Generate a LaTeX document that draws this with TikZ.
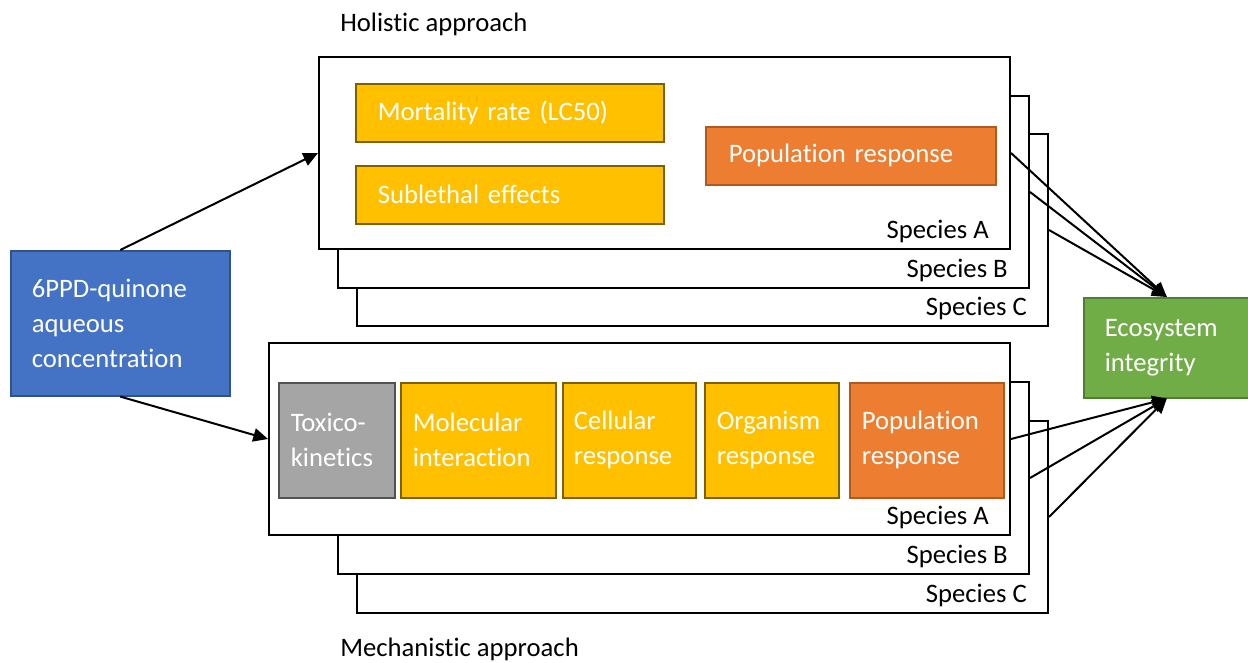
\documentclass[tikz,border=0pt]{standalone}
\usepackage{fontspec}
\setmainfont[Ligatures={NoCommon}]{Carlito}
\usetikzlibrary{arrows.meta}
\definecolor{cblue}{HTML}{4472C4}
\definecolor{cbluedk}{HTML}{2F528F}
\definecolor{cgold}{HTML}{FFC000}
\definecolor{cgolddk}{HTML}{7F6000}
\definecolor{corange}{HTML}{ED7D31}
\definecolor{corangedk}{HTML}{AE5A21}
\definecolor{cgray}{HTML}{A5A5A5}
\definecolor{cgraydk}{HTML}{525252}
\definecolor{cgreen}{HTML}{70AD47}
\definecolor{cgreendk}{HTML}{507E32}
\begin{document}
\begin{tikzpicture}[x=0.75pt,y=-0.75pt,
  every node/.style={font=\fontsize{20}{26.25}\selectfont},
  stack/.style={rectangle, draw=black, line width=1.5pt, fill=white, inner sep=0pt, anchor=north west, minimum height=144pt},
  cbox/.style={rectangle, line width=1.2pt, anchor=north west, align=left, text=white, inner ysep=0pt},
  goldbox/.style={cbox, fill=cgold, draw=cgolddk},
  orangebox/.style={cbox, fill=corange, draw=corangedk},
  spec/.style={anchor=base east, inner sep=0pt},
  ttl/.style={anchor=base west, inner sep=0pt},
  conn/.style={line width=1.5pt, -{Triangle[length=11pt,width=10pt]}},
]
\path[use as bounding box, clip] (0,0) rectangle (1248,663);

% titles
\node[ttl] (hol) at (340,32) {Holistic approach};
\node[ttl] (mech) at (340,656) {Mechanistic approach};

% source
\node[cbox, fill=cblue, draw=cbluedk, minimum height=108.75pt, text width=132.75pt, inner xsep=15.75pt] (src) at (10,250)
  {6PPD-quinone\\aqueous\\concentration};

% top stack
\node[stack, minimum width=518.25pt] (topC) at (356,133) {};
\node[spec] (topCl) at ([xshift=-16.5pt,yshift=9pt]topC.south east) {Species C};
\node[stack, minimum width=518.25pt] (topB) at (337,95) {};
\node[spec] (topBl) at ([xshift=-16.5pt,yshift=9pt]topB.south east) {Species B};
\node[stack, minimum width=518.25pt] (topA) at (318,56) {};
\node[spec] (topAl) at ([xshift=-16.5pt,yshift=9pt]topA.south east) {Species A};

\node[goldbox, minimum height=43.5pt, text width=198pt, inner xsep=16.5pt] (mort) at (355,83) {Mortality rate (LC50)};
\node[goldbox, minimum height=43.5pt, text width=198pt, inner xsep=16.5pt] (subl) at (355,165) {Sublethal effects};
\node[orangebox, minimum height=43.5pt, text width=183pt, inner xsep=17.25pt] (popT) at (705,126) {Population response};

% bottom stack
\node[stack, minimum width=518.25pt] (botC) at (356,420) {};
\node[spec] (botCl) at ([xshift=-16.5pt,yshift=9pt]botC.south east) {Species C};
\node[stack, minimum width=518.25pt] (botB) at (337,381) {};
\node[spec] (botBl) at ([xshift=-16.5pt,yshift=9pt]botB.south east) {Species B};
\node[stack, minimum width=555.75pt] (botA) at (268,342) {};
\node[spec] (botAl) at ([xshift=-16.5pt,yshift=9pt]botA.south east) {Species A};

\node[cbox, fill=cgray, draw=cgraydk, minimum height=86.25pt, text width=69pt, inner xsep=9pt] (tox) at (278,382) {Toxico-\\kinetics};
\node[goldbox, minimum height=86.25pt, text width=98.25pt, inner xsep=9pt] (mol) at (400,382) {Molecular\\interaction};
\node[goldbox, minimum height=86.25pt, text width=83.25pt, inner xsep=8.25pt] (cell) at (562,382) {Cellular\\response};
\node[goldbox, minimum height=86.25pt, text width=82.5pt, inner xsep=9pt] (org) at (704,382) {Organism\\response};
\node[orangebox, minimum height=86.25pt, text width=97.5pt, inner xsep=9pt] (popB) at (849,382) {Population\\response};

% target
\node[cbox, fill=cgreen, draw=cgreendk, minimum height=75pt, text width=93pt, inner xsep=15.75pt] (eco) at (1083,297) {Ecosystem\\integrity};

% connectors
\draw[conn] (src.north) -- (topA.west);
\draw[conn] (src.south) -- (botA.west);
\draw[conn] (topA.east) -- (eco.north);
\draw[conn] (topB.east) -- (eco.north);
\draw[conn] (topC.east) -- (eco.north);
\draw[conn] (botA.east) -- (eco.south);
\draw[conn] (botB.east) -- (eco.south);
\draw[conn] (botC.east) -- (eco.south);
\end{tikzpicture}
\end{document}
